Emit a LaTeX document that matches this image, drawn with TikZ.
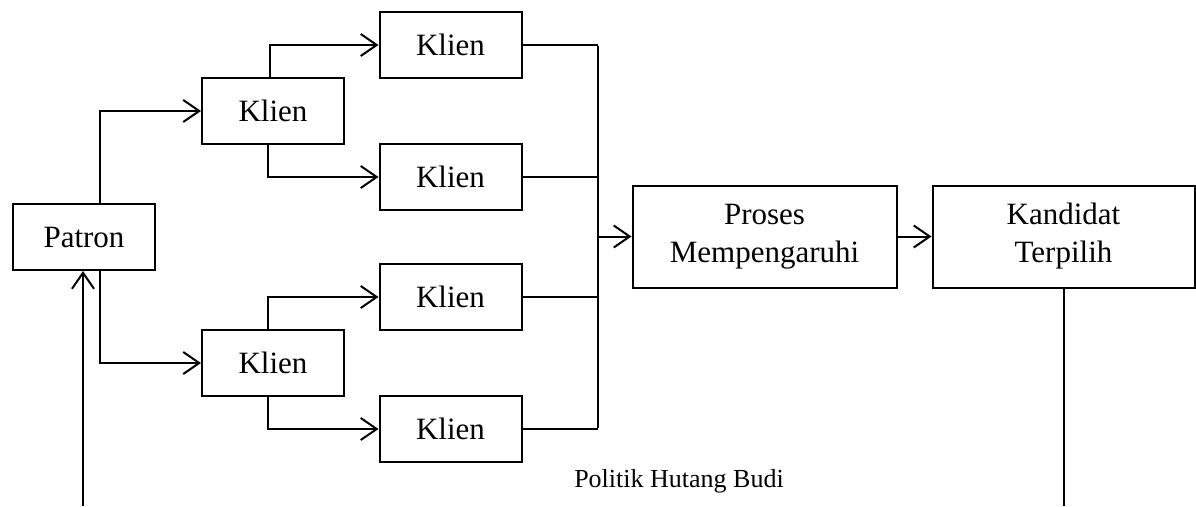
\documentclass[tikz,border=0pt]{standalone}
\usepackage{fontspec}
\setmainfont{Liberation Serif}
\usetikzlibrary{arrows.meta}
\begin{document}
\begin{tikzpicture}[x=1pt,y=-1pt,
  box/.style={draw, line width=2pt, inner sep=0pt, align=center,
    font=\fontsize{31}{38}\selectfont},
  kbox/.style={box, minimum width=142pt, minimum height=66pt},
  bigbox/.style={box, minimum width=264pt, minimum height=102pt},
  conn/.style={line width=2pt},
  arr/.style={conn, -{Straight Barb[length=16pt,width=22pt,line width=2pt]}}]
\useasboundingbox (0,0) rectangle (1196,506);
\node[kbox] (patron) at (84,237) {Patron};
\node[kbox] (k1) at (273,111) {Klien};
\node[kbox] (k2) at (273,363) {Klien};
\node[kbox] (ka) at (450.5,45) {Klien};
\node[kbox] (kb) at (450.5,177) {Klien};
\node[kbox] (kc) at (450.5,297) {Klien};
\node[kbox] (kd) at (450.5,429) {Klien};
\node[bigbox] (proses) at (764.5,236.5) {Proses\\Mempengaruhi};
\node[bigbox, minimum width=262pt] (kand) at (1063.5,236.5) {Kandidat\\Terpilih};
\node[font=\fontsize{26}{30}\selectfont, inner sep=0pt] (judul) at (679,481) {Politik Hutang Budi};
\coordinate (busT) at (598,45);
\coordinate (busB) at (598,429);
\coordinate (busM) at (598,236.5);
\coordinate (upStart) at (83,506);
\coordinate (kandEnd) at (1064,506);
% patron to klien
\draw[arr] ([xshift=16pt]patron.north) |- (k1.west);
\draw[arr] ([xshift=16pt]patron.south) |- (k2.west);
\draw[arr] (upStart) -- (upStart |- patron.south);
% klien to klien
\draw[arr] ([xshift=-3pt]k1.north) |- (ka.west);
\draw[arr] ([xshift=-5pt]k1.south) |- (kb.west);
\draw[arr] ([xshift=-5pt]k2.north) |- (kc.west);
\draw[arr] ([xshift=-5pt]k2.south) |- (kd.west);
% to bus
\draw[conn] (ka.east) -- (ka.east -| busT);
\draw[conn] (kb.east) -- (kb.east -| busT);
\draw[conn] (kc.east) -- (kc.east -| busT);
\draw[conn] (kd.east) -- (kd.east -| busT);
\draw[conn] ([yshift=-1pt]busT) -- ([yshift=1pt]busB);
\draw[arr] (busM) -- (proses.west);
\draw[arr] (proses.east) -- (kand.west);
\draw[conn] (kand.south -| kandEnd) -- (kandEnd);
\end{tikzpicture}
\end{document}
